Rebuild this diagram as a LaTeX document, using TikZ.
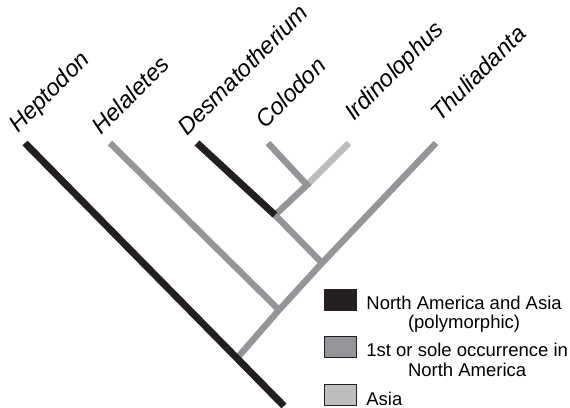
\documentclass[tikz,border=0pt]{standalone}
\usepackage{fontspec}
\setmainfont{Liberation Sans}
\definecolor{polyblack}{HTML}{231F20}
\definecolor{namgrey}{HTML}{939598}
\definecolor{asiagrey}{HTML}{BCBEC0}
\begin{document}
\begin{tikzpicture}[x=0.5pt,y=-0.5pt,
  taxon/.style={rotate=45, anchor=base west, inner sep=0pt, font=\fontsize{11.8}{13}\selectfont\itshape},
  blackbr/.style={draw=polyblack, line width=3.5pt},
  greybr/.style={draw=namgrey, line width=3.2pt},
  lightbr/.style={draw=asiagrey, line width=3.2pt},
  keybox/.style={draw=polyblack, line width=0.5pt, minimum width=16pt, minimum height=10.5pt, inner sep=0pt},
  keytext/.style={align=center, anchor=west, inner sep=0pt, font=\fontsize{9.25}{9.75}\selectfont}]
\useasboundingbox (0,0) rectangle (570,408);
% tips
\coordinate (hep) at (25,143);
\coordinate (hel) at (110,143);
\coordinate (des) at (197,143);
\coordinate (col) at (268,143);
\coordinate (ird) at (349,143);
\coordinate (thu) at (436,143);
% nodes of the tree
\coordinate (base) at (284,406);
\coordinate (root) at (238,357);
\coordinate (nhel) at (279,310);
\coordinate (ndes) at (322,263);
\coordinate (ncol) at (275,215);
\coordinate (nird) at (307,185);
% branches
\draw[lightbr] (nird) -- (ird);
\draw[greybr] (root) -- (nhel) -- (ndes) -- (thu);
\draw[greybr] (hel) -- (nhel);
\draw[greybr] (ndes) -- (ncol) -- (nird) -- (col);
\draw[blackbr] (des) -- (ncol);
\draw[blackbr] (hep) -- (base);
% taxa
\node[taxon] (lhep) at ([shift={(-7,-9)}]hep) {Heptodon};
\node[taxon] (lhel) at ([shift={(-9,-7)}]hel) {Helaletes};
\node[taxon] (ldes) at ([shift={(-10,-6)}]des) {Desmatotherium};
\node[taxon] (lcol) at ([shift={(-3,-13)}]col) {Colodon};
\node[taxon] (lird) at ([shift={(5,-21)}]ird) {Irdinolophus};
\node[taxon] (lthu) at ([shift={(4,-20)}]thu) {Thuliadanta};
% key
\node[keybox, fill=polyblack] (kpoly) at (341,300) {};
\node[keybox, fill=namgrey] (kna) at (341,347) {};
\node[keybox, fill=asiagrey] (kasia) at (341,395) {};
\node[keytext] (tpoly) at (366,314) {North America and Asia\\(polymorphic)};
\node[keytext] (tna) at (366,360) {1st or sole occurrence in\\North America};
\node[keytext] (tasia) at (366,399) {Asia};
\end{tikzpicture}
\end{document}
